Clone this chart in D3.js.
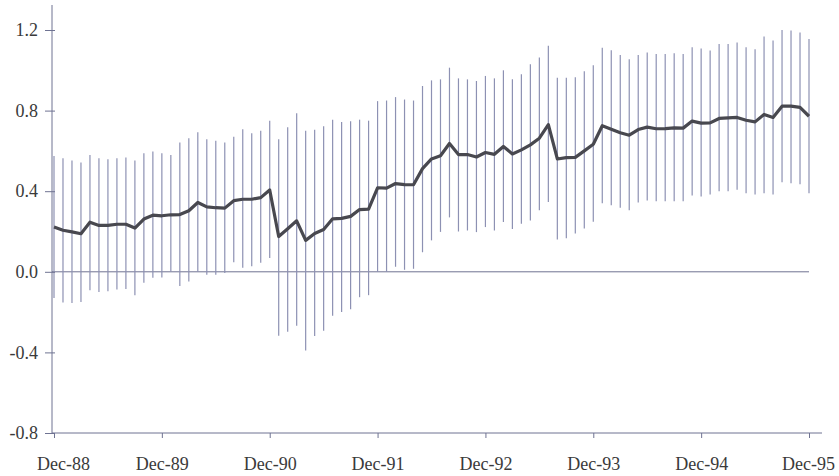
<!DOCTYPE html>
<html><head><meta charset="utf-8">
<script src="https://cdn.jsdelivr.net/npm/d3@7"></script>
<style>body{margin:0;background:#fff}svg{display:block}</style>
</head><body><svg id="c" width="839" height="476"></svg>
<script>
// Monthly observations Dec-88 .. Dec-95 (85 points)
const months = d3.range(85); // index 0 = Dec-88
const mid = [0.222,0.206,0.198,0.189,0.246,0.23,0.23,0.236,0.236,0.217,0.262,0.281,0.278,0.283,0.284,0.303,0.344,0.322,0.318,0.316,0.353,0.36,0.36,0.368,0.406,
0.175,0.214,0.253,0.156,0.19,0.21,0.263,0.265,0.275,0.309,0.311,0.417,0.415,0.438,0.433,0.432,0.512,0.56,0.576,0.637,0.582,0.582,0.57,0.592,
0.583,0.622,0.585,0.605,0.63,0.663,0.73,0.56,0.567,0.568,0.6,0.633,0.725,0.708,0.69,0.678,0.706,0.718,0.71,0.711,0.714,0.713,0.748,
0.738,0.739,0.761,0.764,0.766,0.752,0.744,0.781,0.766,0.822,0.822,0.816,0.772];
const upper = [0.575,0.563,0.552,0.542,0.58,0.563,0.558,0.563,0.567,0.552,0.588,0.597,0.588,0.58,0.642,0.663,0.692,0.658,0.65,0.642,0.67,0.708,0.687,0.70,0.75,
0.658,0.717,0.787,0.70,0.705,0.722,0.755,0.743,0.747,0.755,0.75,0.847,0.85,0.867,0.855,0.85,0.922,0.95,0.955,1.013,0.96,0.955,0.947,0.972,
0.96,1.0,0.955,0.98,1.03,1.063,1.122,0.963,0.963,0.965,0.995,1.025,1.112,1.1,1.076,1.055,1.076,1.088,1.081,1.081,1.085,1.081,1.115,
1.108,1.098,1.131,1.131,1.138,1.115,1.105,1.168,1.148,1.20,1.198,1.188,1.155];
const lower = [-0.13,-0.152,-0.155,-0.15,-0.092,-0.1,-0.097,-0.088,-0.085,-0.116,-0.054,-0.03,-0.028,0.002,-0.07,-0.048,0.0,-0.015,-0.015,-0.006,0.048,0.02,0.027,0.045,0.068,
-0.317,-0.297,-0.268,-0.39,-0.318,-0.293,-0.218,-0.2,-0.186,-0.126,-0.116,0.0,0.0,0.025,0.01,0.015,0.097,0.156,0.198,0.27,0.2,0.205,0.197,0.222,
0.205,0.247,0.213,0.238,0.255,0.305,0.347,0.16,0.167,0.19,0.215,0.248,0.34,0.33,0.318,0.306,0.344,0.354,0.35,0.35,0.35,0.35,0.379,
0.374,0.384,0.40,0.40,0.407,0.39,0.384,0.39,0.384,0.445,0.44,0.434,0.39];
const tickIdx = [0,12,24,36,48,60,72,84];
const tickLabels = ["Dec-88","Dec-89","Dec-90","Dec-91","Dec-92","Dec-93","Dec-94","Dec-95"];
const yTicks = [-0.8,-0.4,0.0,0.4,0.8,1.2];

const svg = d3.select("#c");
const x = d3.scaleLinear().domain([0,84]).range([54,809]);
const y = d3.scaleLinear().domain([-0.8,1.2]).range([433,30]);
const axisCol = "#6f7392", barCol = "#8d91b3", lineCol = "#48484f", txt = "#3a3a3a";
const font = "'Liberation Serif','Times New Roman',serif";

// zero line
svg.append("line").attr("x1",52).attr("x2",809).attr("y1",y(0)).attr("y2",y(0))
  .attr("stroke",axisCol).attr("stroke-width",1);

// error bars
svg.append("g").selectAll("line").data(months).join("line")
  .attr("x1",i=>x(i)).attr("x2",i=>x(i))
  .attr("y1",i=>y(upper[i])).attr("y2",i=>y(lower[i]))
  .attr("stroke",barCol).attr("stroke-width",1.2);

// mean line
svg.append("path").datum(months)
  .attr("d",d3.line().x(i=>x(i)).y(i=>y(mid[i])))
  .attr("fill","none").attr("stroke",lineCol).attr("stroke-width",3.2).attr("stroke-linejoin","round");

// y axis
const yfmt = d => d.toFixed(1);
const ya = svg.append("g").attr("transform","translate(52,0)")
  .call(d3.axisLeft(y).tickValues(yTicks).tickFormat(yfmt).tickSizeInner(7).tickSizeOuter(0).tickPadding(7));
ya.select(".domain").remove();
ya.append("line").attr("x1",0).attr("x2",0).attr("y1",5).attr("y2",433).attr("stroke",axisCol);
ya.selectAll(".tick line").attr("stroke",axisCol).attr("x2",-7).attr("x1",3);
ya.selectAll("text").attr("fill",txt).style("font-family",font).style("font-size","18px");

// x axis
const xa = svg.append("g").attr("transform","translate(0,433)")
  .call(d3.axisBottom(x).tickValues(tickIdx).tickFormat((d,i)=>tickLabels[i]).tickSizeInner(5).tickSizeOuter(0).tickPadding(19));
xa.select(".domain").remove();
xa.append("line").attr("x1",52).attr("x2",822).attr("y1",0).attr("y2",0).attr("stroke",axisCol);
xa.selectAll(".tick line").attr("stroke",axisCol);
xa.selectAll("text").attr("fill",txt).style("font-family",font).style("font-size","18px");
xa.selectAll(".tick").filter(d=>d===0).select("text").attr("dx",9);
xa.selectAll(".tick").filter(d=>d===84).select("text").attr("dx",-1);
</script></body></html>
